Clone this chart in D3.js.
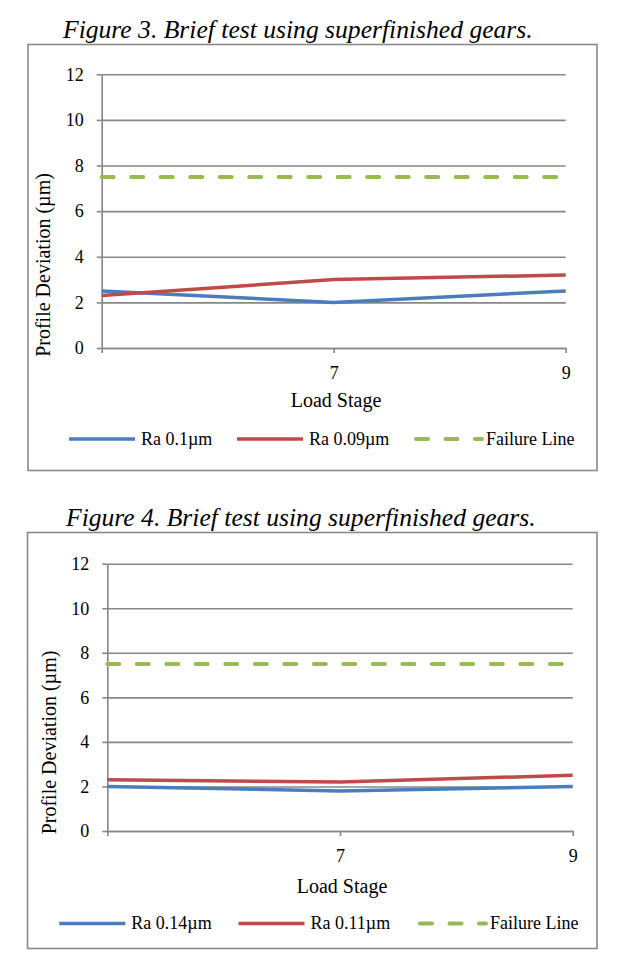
<!DOCTYPE html>
<html>
<head>
<meta charset="utf-8">
<script src="https://cdn.jsdelivr.net/npm/d3@7/dist/d3.min.js"></script>
<style>
  html, body { margin: 0; padding: 0; background: #ffffff; }
  svg { display: block; }
  text { font-family: "Liberation Serif", "Times New Roman", serif; fill: #000; }
</style>
</head>
<body>
<svg id="chart" width="621" height="962"></svg>
<script>
// ---- data ----
const categories = ["", "7", "9"];
const yTicks = [0, 2, 4, 6, 8, 10, 12];

const fig3Title = "Figure 3. Brief test using superfinished gears.";
const fig3Names = ["Ra 0.1µm", "Ra 0.09µm", "Failure Line"];
const fig3Blue = [2.5, 2.0, 2.5];
const fig3Red = [2.3, 3.0, 3.2];
const fig3Failure = [7.5, 7.5, 7.5];

const fig4Title = "Figure 4. Brief test using superfinished gears.";
const fig4Names = ["Ra 0.14µm", "Ra 0.11µm", "Failure Line"];
const fig4Blue = [2.0, 1.8, 2.0];
const fig4Red = [2.3, 2.2, 2.5];
const fig4Failure = [7.5, 7.5, 7.5];

const xTitle = "Load Stage";
const yTitle = "Profile Deviation (µm)";

// ---- styles ----
const colors = ["#4a7ebb", "#be4b48", "#98b954"];
const gridColor = "#878787";

const svg = d3.select("#chart");

function drawChart(cfg) {
  const g = svg.append("g");
  const series = [
    { name: cfg.names[0], values: cfg.blue, color: colors[0], dashed: false },
    { name: cfg.names[1], values: cfg.red, color: colors[1], dashed: false },
    { name: cfg.names[2], values: cfg.failure, color: colors[2], dashed: true }
  ];

  // title
  g.append("text")
    .attr("x", cfg.titleX).attr("y", cfg.titleY)
    .attr("font-size", cfg.titleSize)
    .attr("font-style", "italic")
    .text(cfg.title);

  // frame
  g.append("rect")
    .attr("x", cfg.box[0]).attr("y", cfg.box[1])
    .attr("width", cfg.box[2] - cfg.box[0]).attr("height", cfg.box[3] - cfg.box[1])
    .attr("fill", "#fff").attr("stroke", "#8a8a8a").attr("stroke-width", 1.6);

  const x = d3.scalePoint().domain(categories).range([cfg.x0, cfg.x1]);
  const y = d3.scaleLinear().domain([0, 12]).range([cfg.yBottom, cfg.yTop]);
  const w = cfg.x1 - cfg.x0;

  // gridlines
  const grid = g.append("g").attr("transform", `translate(${cfg.x0},0)`)
    .call(d3.axisLeft(y).tickValues(yTicks).tickSize(-w).tickFormat(""));
  grid.select(".domain").remove();
  grid.selectAll("line").attr("stroke", gridColor).attr("stroke-width", 1.6);

  // y axis
  const ya = g.append("g").attr("transform", `translate(${cfg.x0},0)`)
    .call(d3.axisLeft(y).tickValues(yTicks).tickSize(5).tickSizeOuter(0).tickPadding(13));
  ya.select(".domain").attr("stroke", gridColor).attr("stroke-width", 1.6);
  ya.selectAll("line").attr("stroke", gridColor).attr("stroke-width", 1.6);
  ya.selectAll("text").attr("font-size", 18).attr("font-family", "Liberation Serif").attr("fill", "#000");

  // x axis
  const xa = g.append("g").attr("transform", `translate(0,${cfg.yBottom})`)
    .call(d3.axisBottom(x).tickSize(5).tickSizeOuter(0).tickPadding(13));
  xa.select(".domain").attr("stroke", gridColor).attr("stroke-width", 1.6);
  xa.selectAll("line").attr("stroke", gridColor).attr("stroke-width", 1.6);
  xa.selectAll("text").attr("font-size", 18).attr("font-family", "Liberation Serif").attr("fill", "#000");

  // axis titles
  g.append("text")
    .attr("x", cfg.xTitleX).attr("y", cfg.xTitleY)
    .attr("text-anchor", "middle").attr("font-size", 20)
    .text(xTitle);
  g.append("text")
    .attr("transform", `translate(${cfg.yTitleX},${cfg.yTitleY}) rotate(-90)`)
    .attr("text-anchor", "middle").attr("font-size", 20)
    .text(yTitle);

  // lines
  const line = d3.line().x((d, i) => x(categories[i])).y(d => y(d));
  series.forEach(s => {
    g.append("path")
      .datum(s.values)
      .attr("d", line)
      .attr("fill", "none")
      .attr("stroke", s.color)
      .attr("stroke-width", s.dashed ? 4 : 3.5)
      .attr("stroke-linejoin", "round")
      .attr("stroke-linecap", s.dashed ? "round" : "butt")
      .attr("stroke-dasharray", s.dashed ? "12,17.5" : null);
  });

  // legend
  series.forEach((s, i) => {
    const lx = cfg.legendX[i];
    g.append("line")
      .attr("x1", lx).attr("x2", lx + 66)
      .attr("y1", cfg.legendY).attr("y2", cfg.legendY)
      .attr("stroke", s.color)
      .attr("stroke-width", s.dashed ? 4 : 3.5)
      .attr("stroke-linecap", s.dashed ? "round" : "butt")
      .attr("stroke-dasharray", s.dashed ? "12,17.5" : null)
      .attr("transform", s.dashed ? "translate(2,0)" : null);
    g.append("text")
      .attr("x", lx + 72).attr("y", cfg.legendY + 5.5)
      .attr("font-size", 18)
      .text(s.name);
  });
}

drawChart({
  title: fig3Title, names: fig3Names, blue: fig3Blue, red: fig3Red, failure: fig3Failure,
  titleX: 63, titleY: 38, titleSize: 25.6,
  box: [28, 44.5, 597, 470.5],
  x0: 101.7, x1: 565.7, yTop: 74.3, yBottom: 348,
  xTitleX: 336, xTitleY: 407,
  yTitleX: 50, yTitleY: 265,
  legendX: [69, 237, 414], legendY: 439
});

drawChart({
  title: fig4Title, names: fig4Names, blue: fig4Blue, red: fig4Red, failure: fig4Failure,
  titleX: 66, titleY: 526, titleSize: 25.6,
  box: [27.5, 532.5, 597, 948.5],
  x0: 107.3, x1: 572.7, yTop: 563.7, yBottom: 831,
  xTitleX: 342, xTitleY: 893,
  yTitleX: 56, yTitleY: 742.5,
  legendX: [59.3, 238.5, 418], legendY: 923.5
});
</script>
</body>
</html>
